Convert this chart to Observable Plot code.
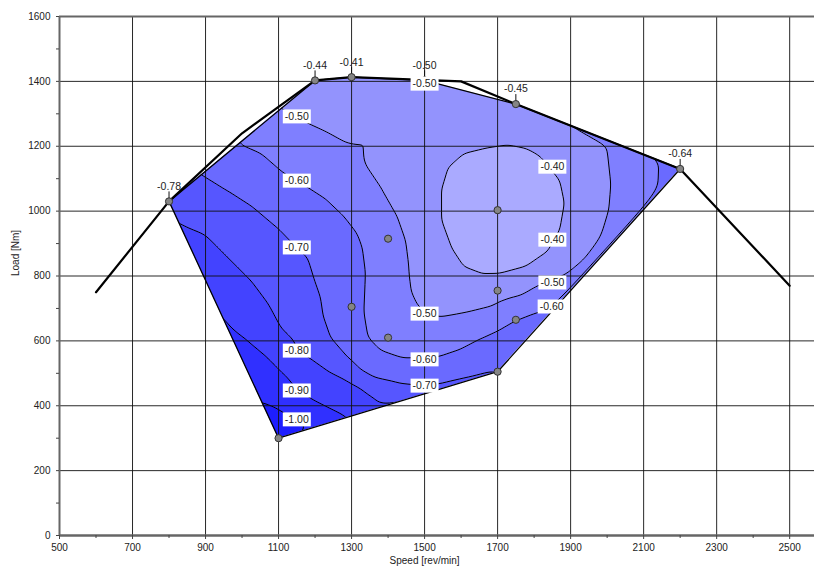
<!DOCTYPE html>
<html><head><meta charset="utf-8">
<script src="https://cdn.jsdelivr.net/npm/d3@7"></script>
<script src="https://cdn.jsdelivr.net/npm/@observablehq/plot@0.6"></script>
<style>html,body{margin:0;padding:0;background:#fff}</style>
</head><body><div id="chart"></div>
<script>
// ---- axes ----
const xTicks = [500,700,900,1100,1300,1500,1700,1900,2100,2300,2500];
const xMinor = [600,800,1000,1200,1400,1600,1800,2000,2200,2400];
const yTicks = [0,200,400,600,800,1000,1200,1400,1600];
const yMinor = [100,300,500,700,900,1100,1300,1500];

// ---- measured points (speed, load, value) ----
const ptX = [800,1200,1300,1500,1750,2200,1100,1700,1750,1700,1700,1400,1400,1300];
const ptY = [1030,1403,1413,1403,1330,1130,300,505,665,755,1003,610,915,705];
const ptV = [-0.78,-0.44,-0.41,-0.50,-0.45,-0.64,-1.04,-0.70,-0.60,-0.48,-0.33,-0.56,-0.54,-0.63];
const ptLabel = ["-0.78","-0.44","-0.41","-0.50","-0.45","-0.64","","","","","","","",""];

// ---- convex hull of the measured points (coloured area) ----
const hullX = [800,1200,1300,1500,1750,2200,1700,1100];
const hullY = [1030,1403,1413,1403,1330,1130,505,300];

// ---- full-load curve ----
const curveX = [600,800,1000,1200,1300,1600,1750,2200,2500];
const curveY = [750,1030,1240,1403,1413,1400,1330,1130,770];

// ---- contour lines (speed, load) per level ----
const levels = [-1.0,-0.9,-0.8,-0.7,-0.6,-0.5,-0.4];
const trace40 = [[1544,1063],[1563,1134],[1607,1178],[1673,1196],[1727,1205],[1782,1193],[1818,1171],[1873,1094],[1886,1023],[1873,940],[1837,869],[1782,826],[1700,801],[1662,795],[1607,826],[1571,888],[1544,971]];
const trace50 = [[1105,1316],[1174,1273],[1234,1242],[1289,1208],[1333,1150],[1379,1073],[1426,980],[1448,909],[1456,838],[1459,786],[1462,755],[1478,715],[1497,684],[1538,672],[1599,684],[1689,709],[1763,740],[1810,771],[1892,808],[1947,857],[1982,919],[2004,1002],[2010,1085],[2001,1178],[1996,1211]];
const trace60 = [[990,1208],[1051,1178],[1111,1119],[1179,1073],[1234,1033],[1278,986],[1316,931],[1330,888],[1338,817],[1333,684],[1344,610],[1379,570],[1442,545],[1536,549],[1590,570],[1653,607],[1700,632],[1799,687],[1855,703],[2141,1156],[2138,1057]];
const trace70 = [[890,1112],[960,1063],[1032,1011],[1097,949],[1149,888],[1179,857],[1196,795],[1215,734],[1223,672],[1242,610],[1289,549],[1325,509],[1360,487],[1434,469],[1497,462],[1544,462],[1634,487],[1681,509]];
const trace80 = [[828,962],[895,931],[968,848],[1023,786],[1070,715],[1105,641],[1141,601],[1152,570],[1196,539],[1234,509],[1289,478],[1325,456],[1352,432],[1388,398]];
const trace90 = [[960,647],[1015,601],[1070,549],[1114,499],[1152,447],[1196,416],[1251,385],[1289,364]];
const trace100 = [[1051,416],[1097,395],[1188,333]];

// ---- contour labels ----
const clabX = [1150,1150,1150,1150,1150,1150,1500,1500,1500,1850,1850,1850,1848,1500];
const clabY = [1292,1094,888,570,447,358,684,543,462,1137,912,780,706,1393];
const clabText = ["-0.50","-0.60","-0.70","-0.80","-0.90","-1.00","-0.50","-0.60","-0.70","-0.40","-0.40","-0.50","-0.60","-0.50"];

// ---- band colours (below -1.0, then one per level) ----
const bandColors = ["#1e1eff","#3030ff","#4343ff","#5656ff","#6a6aff","#7f7fff","#9393fd","#aaaaff"];

// ---- build tables ----
const points = ptX.map((x,i)=>({x, y: ptY[i], v: ptV[i], label: ptLabel[i]}));
const samples = points.map(d=>({x:d.x, y:d.y, v:d.v}));
[[-0.4,trace40],[-0.5,trace50],[-0.6,trace60],[-0.7,trace70],[-0.8,trace80],[-0.9,trace90],[-1.0,trace100]]
  .forEach(([lvl, arr]) => arr.forEach(([x,y]) => samples.push({x, y, v: lvl})));
const thresholds = [-1.5, ...levels.map(v => v - 1e-6)];
const hull = hullX.map((x,i)=>({x, y: hullY[i]}));
const hullClosed = [...hull, hull[0]];
const curve = curveX.map((x,i)=>({x, y: curveY[i]}));
const labeled = points.filter(d => d.label);
const clabs = clabX.map((x,i)=>({x, y: clabY[i], t: clabText[i]}));

// mask everything outside the hull
function hullMask(index, scales, values, dims) {
  const {width, height, marginTop, marginRight, marginBottom, marginLeft} = dims;
  const x0 = marginLeft - 3, y0 = marginTop - 3, x1 = width - marginRight + 3, y1 = height - marginBottom + 3;
  let d = `M${x0},${y0}H${x1}V${y1}H${x0}Z`;
  d += hull.map((p,i)=>`${i?"L":"M"}${scales.x(p.x)},${scales.y(p.y)}`).join("") + "Z";
  const path = document.createElementNS("http://www.w3.org/2000/svg","path");
  path.setAttribute("d", d);
  path.setAttribute("fill", "white");
  path.setAttribute("fill-rule", "evenodd");
  return path;
}

const boxSymbol = {draw(ctx){ ctx.moveTo(-14,-7); ctx.lineTo(14,-7); ctx.lineTo(14,7); ctx.lineTo(-14,7); ctx.closePath(); }};
const tickSymbol = {draw(ctx){ ctx.moveTo(0,-3); ctx.lineTo(0,-10); }};
const plain = d => String(d);

const chart = Plot.plot({
  width: 814, height: 568,
  marginLeft: 59, marginRight: 0, marginTop: 16, marginBottom: 33,
  style: {fontFamily: "'Liberation Sans', Arial, sans-serif", fontSize: "10px", background: "white", color: "#222"},
  x: {domain: [500, 2568]},
  y: {domain: [0, 1600]},
  color: {type: "ordinal", domain: thresholds, range: bandColors},
  marks: [
    Plot.contour(samples, {x: "x", y: "y", fill: "v", thresholds, interpolate: "barycentric", blur: 3, stroke: "black", strokeWidth: 1, pixelSize: 1}),
    hullMask,
    Plot.gridX(xTicks.slice(1), {stroke: "#111", strokeOpacity: 0.9, strokeWidth: 1}),
    Plot.gridY(yTicks.slice(1, -1), {stroke: "#111", strokeOpacity: 0.9, strokeWidth: 1}),
    Plot.line(hullClosed, {x: "x", y: "y", stroke: "black", strokeWidth: 1.3}),
    Plot.line(curve, {x: "x", y: "y", stroke: "black", strokeWidth: 2.2}),
    Plot.dot(labeled, {x: "x", y: "y", symbol: tickSymbol, stroke: "#111", fill: "none", strokeWidth: 1}),
    Plot.dot(points, {x: "x", y: "y", r: 3.6, fill: "#858585", stroke: "#333", strokeWidth: 1}),
    Plot.text(labeled, {x: "x", y: "y", text: "label", dy: -15, fontSize: 10.5, fill: "#222"}),
    Plot.dot(clabs, {x: "x", y: "y", symbol: boxSymbol, fill: "white", stroke: "none"}),
    Plot.text(clabs, {x: "x", y: "y", text: "t", fontSize: 10.5, fill: "#222"}),
    Plot.ruleX([500], {stroke: "#666", strokeWidth: 2}),
    Plot.ruleY([0], {stroke: "#666", strokeWidth: 2.5}),
    Plot.ruleY([1600], {stroke: "#666", strokeWidth: 2}),
    Plot.axisX(xTicks, {tickSize: 4, tickPadding: 4, tickFormat: plain, label: null, stroke: "#444", fill: "#222"}),
    Plot.axisX(xMinor, {tickSize: 3, tickFormat: () => "", label: null, stroke: "#444"}),
    Plot.axisY(yTicks, {tickSize: 3, tickPadding: 6, tickFormat: plain, label: null, stroke: "#444", fill: "#222"}),
    Plot.axisY(yMinor, {tickSize: 3, tickFormat: () => "", label: null, stroke: "#444"}),
    Plot.text([1500], {x: d => d, frameAnchor: "bottom", dy: 28, text: () => "Speed [rev/min]", fill: "#222"}),
    Plot.text([800], {y: d => d, frameAnchor: "left", dx: -44, rotate: -90, text: () => "Load [Nm]", fill: "#222"})
  ]
});
document.getElementById("chart").appendChild(chart);
</script>
</body></html>
